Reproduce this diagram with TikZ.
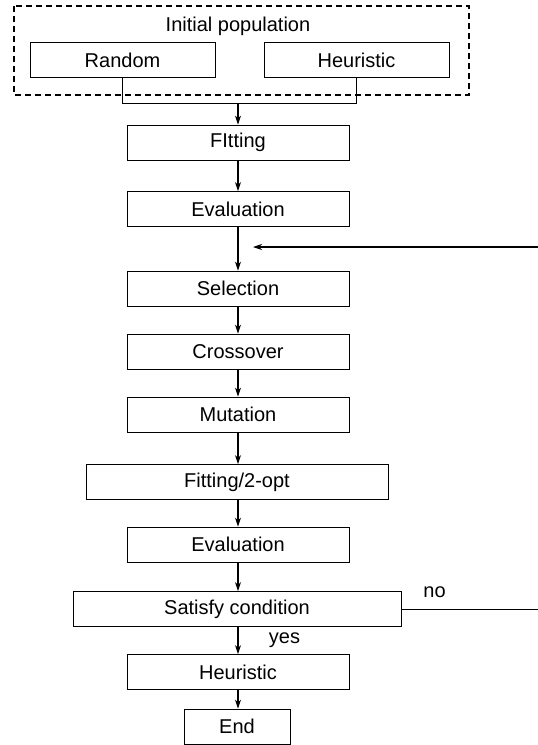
\documentclass[tikz,border=0pt]{standalone}
\usepackage{fontspec}
\setmainfont{Liberation Sans}
\usetikzlibrary{arrows.meta}
\begin{document}
\begin{tikzpicture}[x=1pt,y=-1pt,
  box/.style={draw, line width=0.9pt, minimum height=35pt, inner sep=0pt, font=\fontsize{20}{23}\selectfont},
  lbl/.style={inner sep=0pt, font=\fontsize{20}{23}\selectfont},
  arr/.style={line width=1.1pt, -{Stealth[length=9pt,width=6pt]}},
  ln/.style={line width=1pt}]
\useasboundingbox (0,0) rectangle (538,745);
\draw[line width=1.4pt, dash pattern=on 6pt off 4pt] (14,6) rectangle (469,95);
\node[lbl] (init) at (238,26) {Initial population};
\node[box, minimum width=185pt] (rand) at (122.5,60) {Random};
\node[box, minimum width=185pt] (heur) at (356.5,60) {Heuristic};
\coordinate (jl) at (122.5,103);
\coordinate (jr) at (356.5,103);
\coordinate (jm) at (238,103);
\node[box, minimum width=222pt] (fit) at (238,142.5) {FItting};
\node[box, minimum width=222pt] (ev1) at (238,209) {Evaluation};
\node[box, minimum width=222pt] (sel) at (238,288.5) {Selection};
\node[box, minimum width=222pt] (cro) at (238,351.5) {Crossover};
\node[box, minimum width=222pt] (mut) at (238,414.5) {Mutation};
\node[box, minimum width=302pt] (fit2) at (237,482) {Fitting/2-opt};
\node[box, minimum width=222pt] (ev2) at (238,544.5) {Evaluation};
\node[box, minimum width=328pt] (sat) at (237,609) {Satisfy condition};
\node[box, minimum width=222pt] (heu2) at (238,672) {Heuristic};
\node[box, minimum width=106pt] (end) at (237,726.5) {End};
\node[lbl] (no) at (434.5,592) {no};
\node[lbl] (yes) at (284.5,640) {yes};
\coordinate (noend) at (538,609);
\coordinate (loopstart) at (538,247);
\coordinate (looptip) at (253,247);
\draw[ln] (rand.south) -- (jl) -- (jr) -- (heur.south);
\draw[arr] (jm) -- (fit.north);
\draw[arr] (fit) -- (ev1);
\draw[arr] (ev1) -- (sel);
\draw[arr] (sel) -- (cro);
\draw[arr] (cro) -- (mut);
\draw[arr] (mut.south) -- (mut.south |- fit2.north);
\draw[arr] (fit2.south -| ev2.north) -- (ev2.north);
\draw[arr] (ev2.south) -- (ev2.south |- sat.north);
\draw[arr] (sat.south -| heu2.north) -- (heu2.north);
\draw[arr] (heu2.south) -- (heu2.south |- end.north);
\draw[ln] (sat.east) -- (noend);
\draw[arr] (loopstart) -- (looptip);
\end{tikzpicture}
\end{document}
